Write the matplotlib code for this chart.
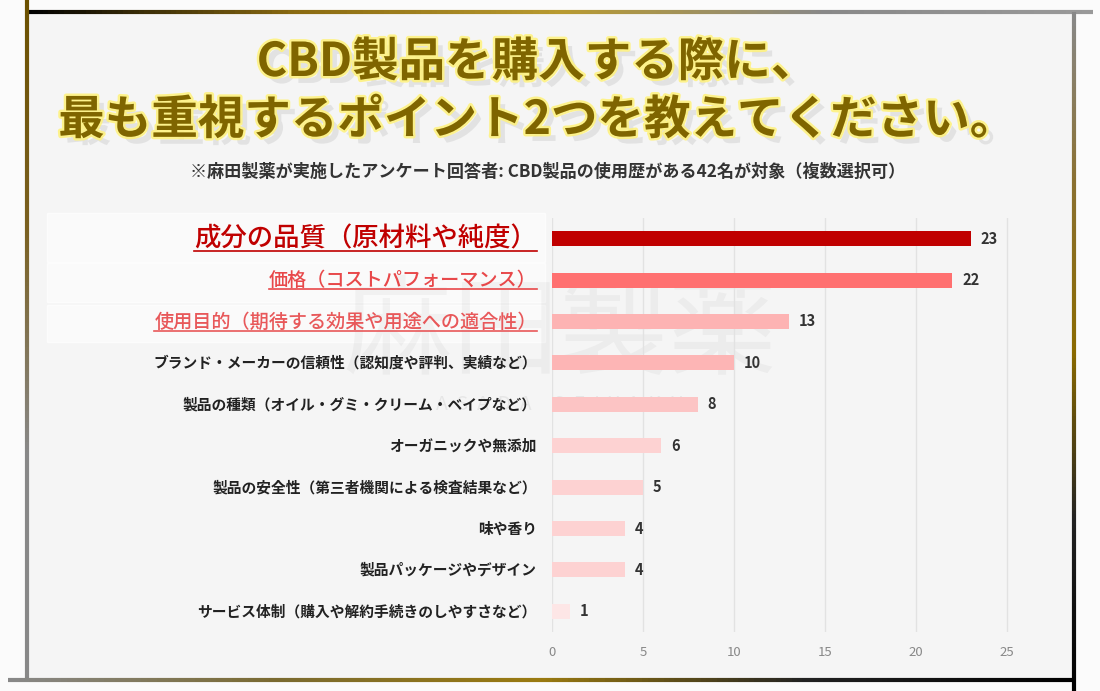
import numpy as np
import matplotlib.pyplot as plt
import matplotlib.patheffects as pe
from matplotlib.collections import LineCollection
from matplotlib.colors import LinearSegmentedColormap
from matplotlib.lines import Line2D

plt.rcParams['font.family'] = ['Noto Sans CJK JP', 'DejaVu Sans']

# data (top to bottom)
labels = [
    '成分の品質（原材料や純度）',
    '価格（コストパフォーマンス）',
    '使用目的（期待する効果や用途への適合性）',
    'ブランド・メーカーの信頼性（認知度や評判、実績など）',
    '製品の種類（オイル・グミ・クリーム・ベイプなど）',
    'オーガニックや無添加',
    '製品の安全性（第三者機関による検査結果など）',
    '味や香り',
    '製品パッケージやデザイン',
    'サービス体制（購入や解約手続きのしやすさなど）',
]
counts = [23, 22, 13, 10, 8, 6, 5, 4, 4, 1]
bar_colors = ['#c00000', '#ff7070', '#fdb3b3', '#fdb5b5', '#fcc4c4',
              '#fdd2d2', '#fdd2d2', '#fdd2d2', '#fdd2d2', '#fde6e6']
label_colors = ['#c00000', '#e8484a', '#e8585a'] + ['#222222'] * 7
label_sizes = [19, 13.8, 13.8] + [10.6] * 7
label_weights = ['medium', 'medium', 'medium'] + ['bold'] * 7
xticks = [0, 5, 10, 15, 20, 25]

title1 = 'CBD製品を購入する際に、'
title2 = '最も重視するポイント2つを教えてください。'
subtitle = '※麻田製薬が実施したアンケート回答者: CBD製品の使用歴がある42名が対象（複数選択可）'

W, H = 1100, 691
fig = plt.figure(figsize=(11, 6.91), dpi=100)
fig.patch.set_facecolor('#fbfbfb')

# panel background
panel = plt.Rectangle((27 / W, 1 - 680 / H), (1074 - 27) / W, (680 - 12) / H,
                      transform=fig.transFigure, color='#f5f5f5', zorder=-2)
fig.patches.append(panel)


def grad_line(x0, y0, x1, y1, cols, lw=3):
    n = 200
    xs = np.linspace(x0, x1, n + 1) / W
    ys = 1 - np.linspace(y0, y1, n + 1) / H
    segs = np.stack([np.column_stack([xs[:-1], ys[:-1]]),
                     np.column_stack([xs[1:], ys[1:]])], axis=1)
    cmap = LinearSegmentedColormap.from_list('g', cols)
    lc = LineCollection(segs, colors=cmap(np.linspace(0, 1, n)), linewidths=lw,
                        transform=fig.transFigure, zorder=5)
    fig.add_artist(lc)


grad_line(27, 12, 1093, 12, ['#000000', '#8a6a10', '#b89a30', '#888888', '#999999'])
grad_line(27, 0, 27, 680, ['#6b5000', '#7a6020', '#888888', '#888888'])
grad_line(1074, 12, 1074, 691, ['#888888', '#8a7030', '#8a6a00', '#222222', '#000000'])
grad_line(8, 680, 1074, 680, ['#888888', '#7a6a30', '#9a7a10', '#222222', '#000000'])

# title
glow = [pe.SimplePatchShadow(offset=(5, -5), shadow_rgbFace='#999999', alpha=0.2),
        pe.Stroke(linewidth=3.5, foreground='#fff27a', alpha=0.85), pe.Normal()]
for txt, y in [(title1, 62), (title2, 120)]:
    fig.text(537 / W, 1 - y / H, txt, ha='center', va='center', fontsize=33.5,
             fontweight='bold', color='#7f6500', path_effects=glow, zorder=6)

fig.text(548 / W, 1 - 172 / H, subtitle, ha='center', va='center',
         fontsize=12.3, fontweight='bold', color='#333333')

# watermark
fig.text(560 / W, 1 - 335 / H, '麻田製薬', ha='center', va='center', fontsize=78,
         color='#000000', alpha=0.035, zorder=-1)
fig.text(560 / W, 1 - 405 / H, 'A  S  A  D  A     S  E  I  Y  A  K  U',
         ha='center', va='center', fontsize=14, color='#000000', alpha=0.06, zorder=-1)

# highlight boxes behind top labels
for y0, y1 in [(213, 262), (263, 302), (305, 342)]:
    fig.patches.append(plt.Rectangle((47 / W, 1 - y1 / H), (545 - 47) / W, (y1 - y0) / H,
                                     transform=fig.transFigure, color='#ffffff',
                                     alpha=0.6, zorder=-1))

ax = fig.add_axes([552 / W, 1 - 632 / H, (1016 - 552) / W, (632 - 218) / H])
ax.set_zorder(3)
ax.set_facecolor('none')
ypos = np.arange(len(labels))
ax.barh(ypos, counts, height=0.36, color=bar_colors, zorder=3)
for y, v in zip(ypos, counts):
    ax.annotate(str(v), (v, y), xytext=(7, 0), textcoords='offset points',
                ha='left', va='center', fontsize=10.5, fontweight='bold', color='#333333')

ax.set_xlim(0, 25.5)
ax.set_ylim(len(labels) - 0.5, -0.5)
ax.set_xticks(xticks)
ax.set_yticks([])
ax.grid(axis='x', color='#e2e2e2', linewidth=1, zorder=0)
for s in ax.spines.values():
    s.set_visible(False)
ax.tick_params(axis='x', length=0, pad=10, labelsize=9.5, labelcolor='#888888')

label_texts = []
for y, lab, c, fs, fw in zip(ypos, labels, label_colors, label_sizes, label_weights):
    t = ax.annotate(lab, (0, y), xytext=(-11, 0), textcoords='offset points',
                    ha='right', va='center', fontsize=fs, fontweight=fw, color=c,
                    annotation_clip=False)
    label_texts.append(t)

# underline the top three labels
fig.canvas.draw()
r = fig.canvas.get_renderer()
for t, c in zip(label_texts[:3], label_colors[:3]):
    bb = t.get_window_extent(r)
    yl = (bb.y0 + 1) / fig.bbox.height
    fig.add_artist(Line2D([bb.x0 / fig.bbox.width, bb.x1 / fig.bbox.width], [yl, yl],
                          transform=fig.transFigure, color=c, linewidth=1.2, zorder=4))

fig.savefig('out.png', dpi=100, facecolor=fig.get_facecolor())
